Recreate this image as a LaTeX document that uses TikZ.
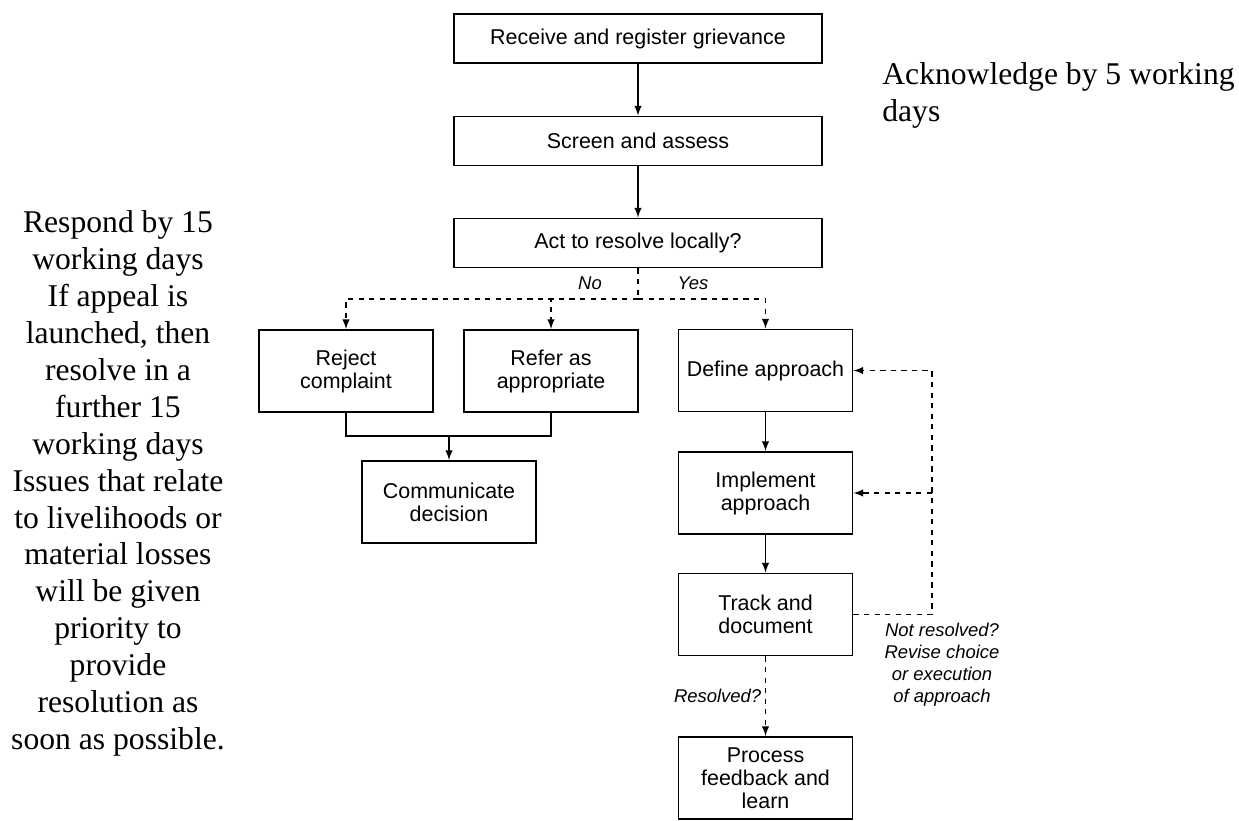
\documentclass[tikz,border=0pt]{standalone}
\usepackage{fontspec}
\setmainfont{Liberation Serif}
\setsansfont{Liberation Sans}
\usepackage{tikz}
\usetikzlibrary{calc}

\begin{document}
\begin{tikzpicture}[
		stepbox/.style={draw, line width=1.1pt, align=center, inner sep=2pt,
			font=\sffamily\fontsize{12.2}{13.1}\selectfont},
		widebox/.style={stepbox, minimum width=7.36cm, minimum height=0.98cm},
		smallbox/.style={stepbox, minimum width=3.48cm, minimum height=1.64cm},
		flow/.style={line width=0.9pt, -latex},
		choice/.style={line width=0.9pt, dashed},
		choicelabel/.style={font=\sffamily\itshape\fontsize{10.5}{12.5}\selectfont, align=center, inner sep=2pt},
		remark/.style={font=\fontsize{18}{21}\selectfont, inner sep=0pt}
	]
		\useasboundingbox (0,0) rectangle (24.78,-16.4);
		
		\node[widebox] (receive) at (12.76, -0.77) {Receive and register grievance};
		\node[widebox] (screen) at (12.76, -2.82) {Screen and assess};
		\node[widebox] (act) at (12.76, -4.86) {Act to resolve locally?};
		
		\node[smallbox] (reject) at (6.92, -7.42) {Reject\\complaint};
		\node[smallbox] (refer) at (11.02, -7.42) {Refer as\\appropriate};
		\node[smallbox] (communicate) at (8.98, -10.04) {Communicate\\decision};
		
		\node[smallbox] (define) at (15.31, -7.41) {Define approach};
		\node[smallbox] (implement) at (15.31, -9.86) {Implement\\approach};
		\node[smallbox] (track) at (15.31, -12.29) {Track and\\document};
		\node[smallbox] (process) at (15.31, -15.56) {Process\\feedback and\\learn};
		
		\draw[flow] (receive) -- (screen);
		\draw[flow] (screen) -- (act);
		
		% branch below the decision
		\coordinate (split) at (12.76, -5.98);
		\draw[choice] (act.south) -- (split);
		\draw[choice, -latex] (split) -| (reject.north);
		\draw[choice, -latex] (split) -| (refer.north);
		\draw[choice, -latex] (split) -| (define.north);
		\node[choicelabel] (no) at (11.8, -5.66) {No};
		\node[choicelabel] (yes) at (13.86, -5.66) {Yes};
		
		\coordinate (join) at (8.98, -8.72);
		\draw[line width=0.9pt] (reject.south) |- (join) -| (refer.south);
		\draw[flow] (join) -- (communicate.north);
		
		\draw[flow] (define) -- (implement);
		\draw[flow] (implement) -- (track);
		\draw[choice, -latex] (track) -- node[choicelabel, left] (resolved) {Resolved?} (process);
		
		% loop back when not resolved
		\coordinate (loop) at (18.64, -7.41);
		\draw[choice, -latex] (track.east) -| (loop) -- (define.east);
		\draw[choice, -latex] (loop |- implement.east) -- (implement.east);
		\node[choicelabel] (notresolved) at (18.84, -13.3) {Not resolved?\\Revise choice\\or execution\\of approach};
		
		\node[remark, align=center] (respond) at (2.36, -9.67) {Respond by 15\\working days\\If appeal is\\launched, then\\resolve in a\\further 15\\working days\\Issues that relate\\to livelihoods or\\material losses\\will be given\\priority to\\provide\\resolution as\\soon as possible.};
		\node[remark, align=left, anchor=west] (acknowledge) at (17.64, -1.91) {Acknowledge by 5 working\\days};
	\end{tikzpicture}
\end{document}
